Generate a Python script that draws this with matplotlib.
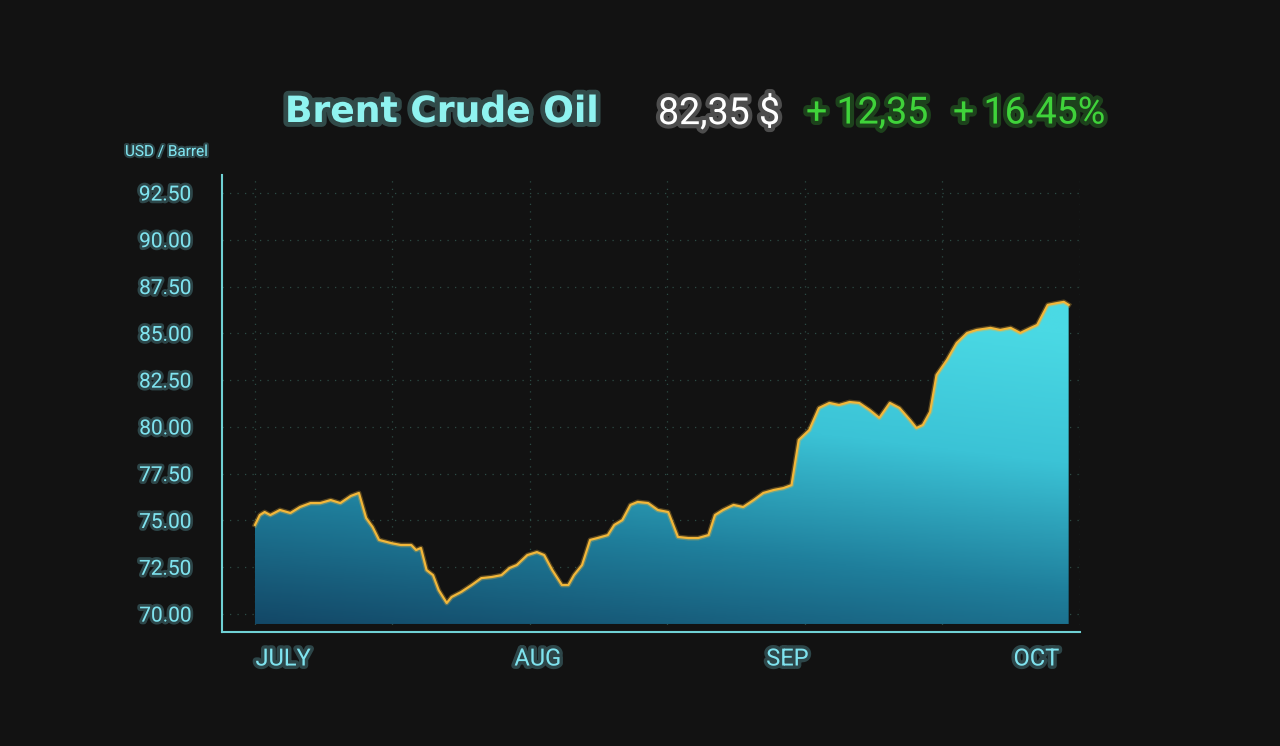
import matplotlib
matplotlib.use("Agg")
import matplotlib.pyplot as plt
import matplotlib.patheffects as pe
import numpy as np
from matplotlib.colors import LinearSegmentedColormap

# Data (days since Jul 1, price USD/barrel)
days = [0, 0.6, 1.2, 1.9, 3.1, 4.4, 5.6, 6.9, 8.1, 9.4, 10.6, 11.9, 12.9, 13.8, 14.6, 15.4,
        16.9, 18.1, 19.4, 20, 20.6, 21.3, 22.1, 22.8, 23.8, 24.4, 25.6, 26.9, 28.1, 29.4, 30.6,
        31.6, 32.5, 33.8, 35, 35.9, 36.9, 38.1, 38.9, 39.6, 40.6, 41.6, 42.5, 43.8, 44.6, 45.6,
        46.6, 47.5, 48.8, 50, 51.3, 52.5, 53.8, 55, 56.3, 57.1, 58.1, 59.4, 60.6, 61.9, 63.1,
        64.4, 65.6, 66.6, 67.5, 68.8, 70, 71.3, 72.5, 73.8, 75, 76.3, 77.5, 78.8, 80, 81.3,
        82.1, 82.9, 83.8, 84.6, 85.9, 87.1, 88.4, 89.6, 91.3, 92.5, 93.8, 95, 96.3, 97.1,
        98.4, 99.6, 100.4, 101]
price = [74.76, 75.29, 75.45, 75.29, 75.56, 75.40, 75.72, 75.93, 75.93, 76.09, 75.93, 76.31,
         76.47, 75.13, 74.65, 73.96, 73.79, 73.69, 73.69, 73.42, 73.53, 72.35, 72.08, 71.28,
         70.59, 70.91, 71.18, 71.55, 71.92, 71.98, 72.08, 72.46, 72.62, 73.15, 73.31, 73.15,
         72.35, 71.55, 71.55, 72.08, 72.62, 73.96, 74.06, 74.22, 74.76, 75.02, 75.83, 75.99,
         75.93, 75.56, 75.45, 74.12, 74.06, 74.06, 74.22, 75.29, 75.56, 75.83, 75.72, 76.09,
         76.47, 76.63, 76.73, 76.89, 79.30, 79.83, 81.01, 81.28, 81.17, 81.33, 81.28, 80.90,
         80.48, 81.28, 81.01, 80.37, 79.94, 80.10, 80.80, 82.77, 83.58, 84.48, 85.02, 85.18,
         85.29, 85.18, 85.29, 85.02, 85.29, 85.45, 86.52, 86.62, 86.68, 86.52]
yticks = [70.00, 72.50, 75.00, 77.50, 80.00, 82.50, 85.00, 87.50, 90.00, 92.50]
month_labels = ["JULY", "AUG", "SEP", "OCT"]
month_pos = [3.5, 35.1, 66.1, 97.0]

bg = "#121212"
cyan = "#7fe3ef"
fig = plt.figure(figsize=(12.8, 7.46), dpi=100, facecolor=bg)
ax = fig.add_axes([0.1734, 0.1528, 0.6703, 0.6126])
ax.set_facecolor(bg)
ax.set_xlim(-4.1, 102.4)
ax.set_ylim(69.04, 93.46)
base = 69.47

def glow(c, w=5):
    return [pe.withStroke(linewidth=w, foreground=c, alpha=0.25)]

# grid
for gx in np.arange(0, 103, 17.06):
    ax.axvline(gx, color="#2c4a44", lw=0.9, ls=(0, (1, 5)), zorder=0)
for gy in yticks:
    ax.axhline(gy, color="#2c4a44", lw=0.9, ls=(0, (1, 5)), zorder=0)

# gradient fill
poly = ax.fill_between(days, price, base, color="none", lw=0)
cmap = LinearSegmentedColormap.from_list("g", ["#134867", "#1f7f9c", "#3bc3d6", "#4ad9e4"])
yy = np.linspace(0, 1, 256).reshape(-1, 1)
xx = np.linspace(0, 1, 64).reshape(1, -1)
grad = np.clip(yy * 0.85 + xx * 0.25, 0, 1)
im = ax.imshow(grad, extent=[0, 101, base, 87.0], origin="lower", aspect="auto",
               cmap=cmap, zorder=1)
im.set_clip_path(poly.get_paths()[0], transform=ax.transData)
ax.plot(days, price, color="#f2b73a", lw=1.6, zorder=3,
        path_effects=[pe.withStroke(linewidth=3.5, foreground="#f2b73a", alpha=0.3)])

for s in ["top", "right"]:
    ax.spines[s].set_visible(False)
for s in ["left", "bottom"]:
    ax.spines[s].set_color("#6fd0d4")
    ax.spines[s].set_linewidth(1.5)
ax.set_yticks(yticks)
ax.set_yticklabels([f"{v:.2f}" for v in yticks])
ax.tick_params(axis="y", length=0, pad=22, labelsize=15, labelcolor=cyan)
for t in ax.get_yticklabels():
    t.set_fontfamily("Roboto")
    t.set_path_effects(glow(cyan, 4))
ax.set_xticks([])
for lab, p in zip(month_labels, month_pos):
    ax.text(p, 67.6, lab, ha="center", va="center", color=cyan, fontsize=17,
            family="Roboto", path_effects=glow(cyan, 5))

fig.text(125 / 1280, 1 - 152 / 746, "USD / Barrel", color=cyan, fontsize=11,
         family="Roboto", va="center", path_effects=glow(cyan, 3))
fig.text(442 / 1280, 1 - 112 / 746, "Brent Crude Oil", color="#8ff3f0", fontsize=26,
         family="DejaVu Sans", weight="bold", ha="center", va="center",
         path_effects=glow("#8ff3f0", 7))
fig.text(658 / 1280, 1 - 113 / 746, "82,35 $", color="white", fontsize=27,
         family="Roboto", ha="left", va="center", path_effects=glow("white", 6))
green = "#3fd33a"
fig.text(806 / 1280, 1 - 113 / 746, "+ 12,35", color=green, fontsize=27,
         family="Roboto", ha="left", va="center", path_effects=glow(green, 6))
fig.text(953 / 1280, 1 - 113 / 746, "+ 16.45%", color=green, fontsize=27,
         family="Roboto", ha="left", va="center", path_effects=glow(green, 6))

fig.savefig("out.png", dpi=100, facecolor=bg)
